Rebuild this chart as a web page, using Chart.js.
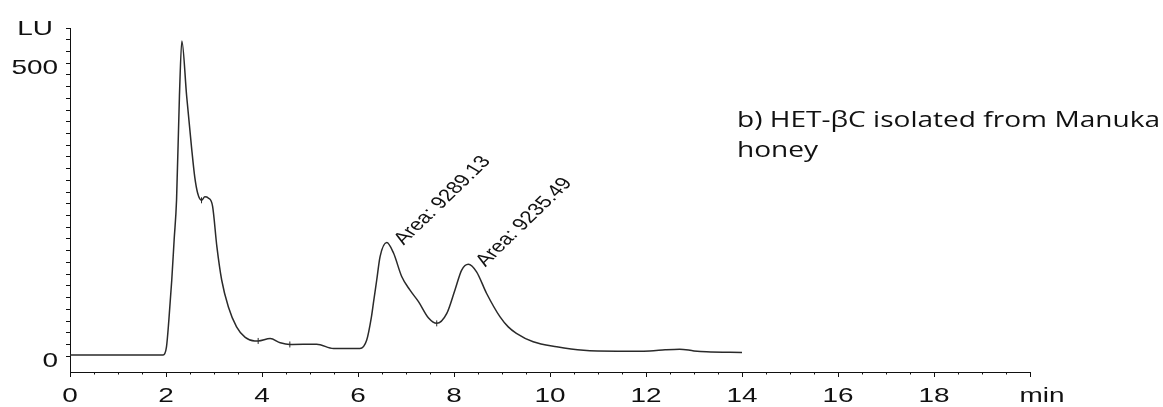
<!DOCTYPE html>
<html>
<head>
<meta charset="utf-8">
<script src="https://cdn.jsdelivr.net/npm/chart.js@4.4.1/dist/chart.umd.min.js"></script>
<style>
  body { margin: 0; background: #fff; }
  #wrap { width: 1163px; height: 407px; }
</style>
</head>
<body>
<div id="wrap"><canvas id="chart" width="1163" height="407"></canvas></div>
<script>
// chromatogram trace (min, LU)
const timeMin = [0, 1.94, 2.01, 2.06, 2.12, 2.17, 2.22, 2.28, 2.33, 2.43, 2.53, 2.6, 2.66, 2.74, 2.81, 2.88,
  2.97, 3.06, 3.16, 3.3, 3.47, 3.65, 3.85, 3.92, 4.17, 4.38, 4.58, 5.14, 5.49, 6.04, 6.18, 6.28, 6.32,
  6.39, 6.46, 6.6, 6.74, 6.91, 7.08, 7.26, 7.47, 7.64, 7.85, 8.02, 8.16, 8.3, 8.47, 8.68, 8.96, 9.13,
  9.3, 9.65, 10.14, 10.7, 11.4, 12.08, 12.4, 12.7, 13.0, 13.26, 14.0];
const signalLU = [2, 2, 16, 62, 130, 199, 267, 444, 538, 444, 358, 305, 278, 266, 272, 270,
  256, 187, 130, 84, 50, 32, 26, 26, 30, 23, 20, 20.5, 13, 13, 27, 67, 90,
  130, 170, 194, 176, 136, 113, 93, 65, 56, 73, 113, 147, 157, 144, 107, 67, 50,
  39, 24.5, 16, 10, 8.5, 9, 11, 12, 9, 7.4, 6.3];

// integration marks on the trace
const markTimes = [2.74, 3.92, 4.58, 7.64];
const markValues = [266, 26, 20, 56];

// labelled peaks
const peakTimes = [6.6, 8.3];
const peakValues = [194, 157];
const peakLabels = ['Area: 9289.13', 'Area: 9235.49'];

// axis labels
const xTicks = [0, 2, 4, 6, 8, 10, 12, 14, 16, 18];
const yTicks = [0, 500];
const titleLines = ['b) HET-\u03b2C isolated from Manuka', 'honey'];

const INK = '#111';
const SX = 1.33; // the reference is stretched sideways

const trace = timeMin.map((t, i) => ({ x: t, y: signalLU[i] }));
const marks = markTimes.map((t, i) => ({ x: t, y: markValues[i] }));

function stretchedText(ctx, text, x, y, align) {
  ctx.save();
  ctx.translate(x, y);
  ctx.scale(SX, 1);
  ctx.textAlign = align;
  ctx.fillText(text, 0, 0);
  ctx.restore();
}

const labelsPlugin = {
  id: 'labels',
  afterDraw(chart) {
    const ctx = chart.ctx;
    const xs = chart.scales.x;
    const ys = chart.scales.y;
    const area = chart.chartArea;

    ctx.save();
    ctx.fillStyle = INK;
    ctx.strokeStyle = INK;
    ctx.lineWidth = 1;

    // minor ticks on x
    for (let v = 0.5; v < 20; v += 0.5) {
      if (v % 2 === 0) continue;
      const px = Math.round(xs.getPixelForValue(v)) + 0.5;
      ctx.beginPath();
      ctx.moveTo(px, area.bottom);
      ctx.lineTo(px, area.bottom + 2.5);
      ctx.stroke();
    }

    ctx.font = '21px "Liberation Sans", Arial, sans-serif';
    ctx.textBaseline = 'alphabetic';
    xTicks.forEach(v => {
      stretchedText(ctx, String(v), xs.getPixelForValue(v), area.bottom + 30, 'center');
    });
    stretchedText(ctx, 'min', xs.getPixelForValue(20) + 12, area.bottom + 30, 'center');

    yTicks.forEach(v => {
      stretchedText(ctx, String(v), area.left - 12, ys.getPixelForValue(v) + 11, 'right');
    });
    stretchedText(ctx, 'LU', area.left - 17, ys.getPixelForValue(560) + 7, 'right');

    // peak area labels, rotated
    ctx.font = '17px "Liberation Sans", Arial, sans-serif';
    peakLabels.forEach((txt, i) => {
      const px = xs.getPixelForValue(peakTimes[i]) + 17;
      const py = ys.getPixelForValue(peakValues[i]) + 3;
      ctx.save();
      ctx.translate(px, py);
      ctx.scale(SX, 1);
      ctx.rotate(-52 * Math.PI / 180);
      ctx.textAlign = 'left';
      ctx.fillText(txt, 0, 0);
      ctx.restore();
    });

    // sample caption on the right
    ctx.font = '22px "Open Sans", "Noto Sans", sans-serif';
    const w1 = ctx.measureText(titleLines[0]).width;
    const sx = 423 / w1;
    titleLines.forEach((line, i) => {
      ctx.save();
      ctx.translate(737, 127 + i * 30);
      ctx.scale(sx, 1);
      ctx.textAlign = 'left';
      ctx.fillText(line, 0, 0);
      ctx.restore();
    });

    ctx.restore();
  }
};

new Chart(document.getElementById('chart').getContext('2d'), {
  type: 'scatter',
  data: {
    datasets: [
      {
        data: trace,
        showLine: true,
        borderColor: '#2a2a2a',
        borderWidth: 1.5,
        pointRadius: 0,
        cubicInterpolationMode: 'monotone',
        fill: false
      },
      {
        data: marks,
        pointStyle: 'line',
        rotation: 90,
        pointRadius: 3,
        borderColor: '#2a2a2a',
        borderWidth: 1
      }
    ]
  },
  options: {
    responsive: false,
    animation: false,
    devicePixelRatio: 1,
    layout: { padding: { top: 28, right: 133, bottom: 0, left: 0 } },
    plugins: {
      legend: { display: false },
      tooltip: { enabled: false }
    },
    scales: {
      x: {
        type: 'linear',
        min: 0,
        max: 20,
        ticks: { stepSize: 2, display: false },
        grid: { drawOnChartArea: false, tickLength: 5, color: INK },
        border: { color: INK, width: 1 },
        afterFit: s => { s.height = 35; }
      },
      y: {
        min: -27,
        max: 560,
        ticks: { stepSize: 20, display: false },
        grid: { drawOnChartArea: false, tickLength: 4, color: INK },
        border: { color: INK, width: 1 },
        afterBuildTicks: s => { s.ticks = s.ticks.filter(t => t.value % 20 === 0); },
        afterFit: s => { s.width = 70; }
      }
    }
  },
  plugins: [labelsPlugin]
});
</script>
</body>
</html>
